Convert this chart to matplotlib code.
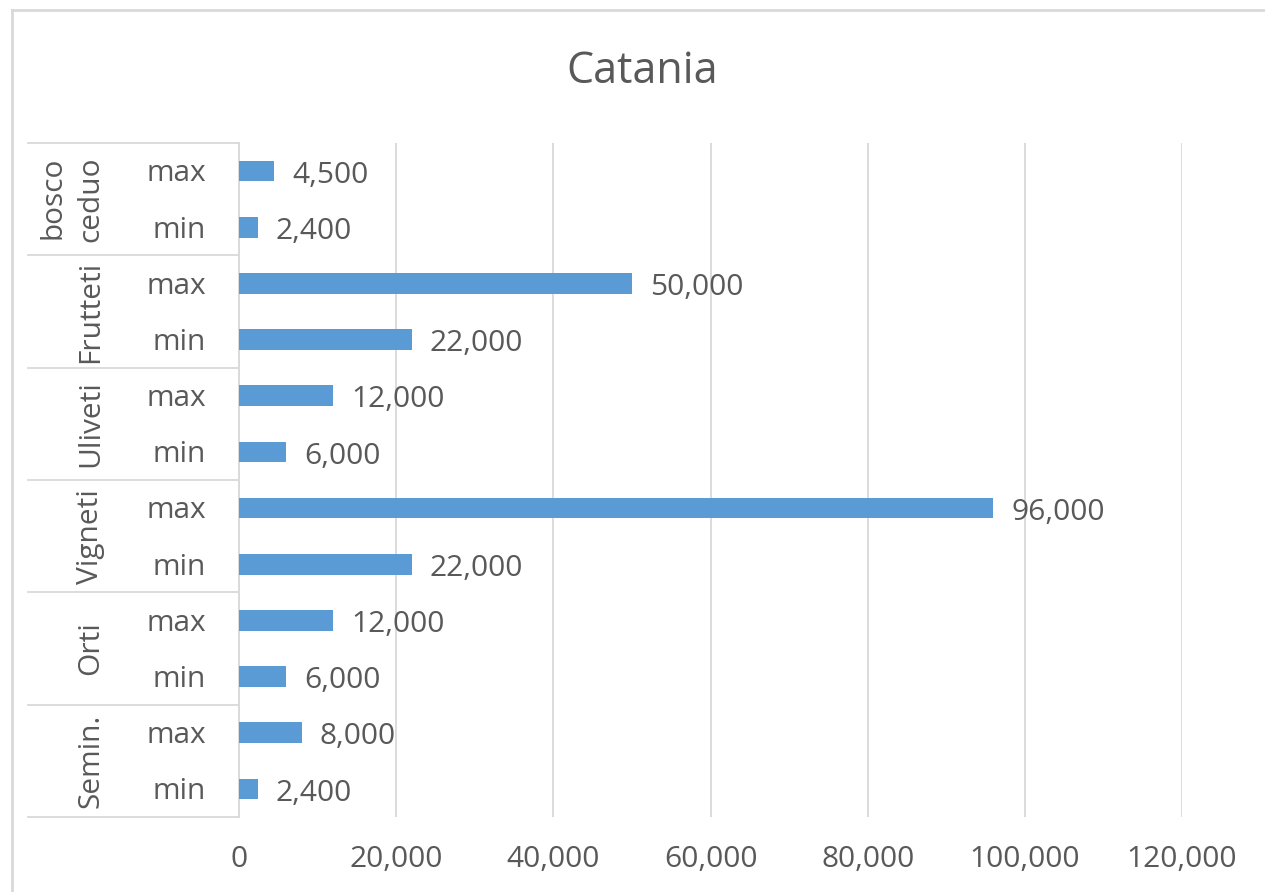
import numpy as np
import matplotlib
matplotlib.use('Agg')
import matplotlib.pyplot as plt
import matplotlib.ticker as ticker
from matplotlib.transforms import blended_transform_factory
from matplotlib.lines import Line2D

plt.rcParams['font.family'] = ['Open Sans', 'DejaVu Sans']

gruppi = ['bosco\nceduo', 'Frutteti', 'Uliveti', 'Vigneti', 'Orti', 'Semin.']
livelli = ['max', 'min']
val_max = [4500, 50000, 12000, 96000, 12000, 8000]
val_min = [2400, 22000, 6000, 22000, 6000, 2400]
xticks = [0, 20000, 40000, 60000, 80000, 100000, 120000]

grigio = '#595959'
linea = '#D9D9D9'
blu = '#5B9BD5'

W, H = 1265, 892
fig = plt.figure(figsize=(W/100, H/100), dpi=100)
ax = fig.add_axes([239/W, 1-817/H, (1182-239)/W, (817-143)/H])

n = len(gruppi)*2
valori = []
etichette = []
for g, a, b in zip(gruppi, val_max, val_min):
    valori += [a, b]
    etichette += livelli
ypos = np.arange(n)[::-1]

ax.barh(ypos, valori, height=0.37, color=blu, zorder=3)
for y, v in zip(ypos, valori):
    ax.annotate(f'{v:,}', (v, y), xytext=(13, -3), textcoords='offset points',
                ha='left', va='center', fontsize=21.5, color=grigio, zorder=4)

ax.set_xlim(0, 120000)
ax.set_ylim(-0.5, n-0.5)
ax.set_xticks(xticks)
ax.xaxis.set_major_formatter(ticker.FuncFormatter(lambda x, p: f'{int(x):,}'))
ax.tick_params(axis='x', length=0, pad=20, labelsize=21.5, labelcolor=grigio)
ax.set_yticks([])
ax.grid(axis='x', color=linea, linewidth=1.3, zorder=0)
for s in ['top', 'right', 'bottom']:
    ax.spines[s].set_visible(False)
ax.spines['left'].set_color(linea)
ax.spines['left'].set_linewidth(1.3)

# etichette di categoria a due livelli
tr = blended_transform_factory(fig.transFigure, ax.transData)
for y, lab in zip(ypos, etichette):
    ax.annotate(lab, (206/W, y), xycoords=tr, xytext=(0, -2), textcoords='offset points',
                ha='right', va='center', fontsize=21.5, color=grigio, annotation_clip=False)
for i, g in enumerate(gruppi):
    yc = n - 1 - 2*i - 0.5
    ax.text(105/W, yc, g, transform=tr, rotation=90, ha='right', va='center',
            fontsize=21.5, color=grigio, linespacing=1.4, clip_on=False)
for k in range(len(gruppi)+1):
    yb = n - 0.5 - 2*k
    ax.add_line(Line2D([28/W, 239/W], [yb, yb], transform=tr, color=linea,
                       linewidth=1.3, clip_on=False))

fig.text(642/W, 1-72/H, 'Catania', ha='center', va='center', fontsize=31, color=grigio)

# bordo del grafico
fig.add_artist(Line2D([12/W, 12/W], [0, 1-10/H], transform=fig.transFigure, color=linea, linewidth=2))
fig.add_artist(Line2D([12/W, 1], [1-10/H, 1-10/H], transform=fig.transFigure, color=linea, linewidth=2))

fig.savefig('out.png', dpi=100)
